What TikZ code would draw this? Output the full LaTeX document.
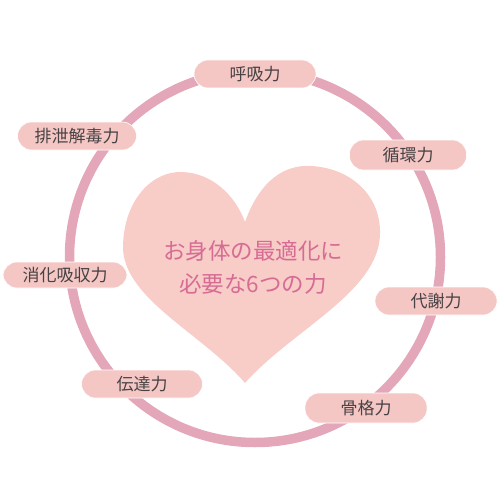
\documentclass[tikz,border=0pt]{standalone}
\usepackage{fontspec}
\newfontfamily\jp{Noto Sans CJK JP}
\definecolor{ringpink}{RGB}{228,166,185}
\definecolor{pillpink}{RGB}{244,199,196}
\definecolor{heartpink}{RGB}{248,204,199}
\definecolor{heartword}{RGB}{214,108,148}
\definecolor{pillword}{RGB}{72,66,68}
\begin{document}
\begin{tikzpicture}[x=1pt,y=-1pt,
    pill/.style={fill=pillpink,draw=white,line width=0.6pt,rounded corners=14pt,
      minimum width=122pt,minimum height=28pt,inner sep=0pt,
      font=\jp\fontsize{17}{17}\selectfont,text=pillword}]
    \useasboundingbox (0,0) rectangle (500,500);
    \draw[ringpink,line width=9.5pt](255,257) circle (185.5);
    \fill[heartpink](245,222) .. controls (260,180) and (285,164) .. (312,166)
      .. controls (354,169) and (381,198) .. (380,234)
      .. controls (379,292) and (292,330) .. (245,383)
      .. controls (203,334) and (122,298) .. (123,246)
      .. controls (124,200) and (152,171) .. (182,172)
      .. controls (212,173) and (235,195) .. (245,222) -- cycle;
    \node[text=heartword,font=\jp\fontsize{22.5}{33}\selectfont,align=center](title) at (253,267){お身体の最適化に\\必要な6つの力};
    \node[pill](kokyu) at (255,74){呼吸力};
    \node[pill,minimum width=119pt](haisetsu) at (77,136){排泄解毒力};
    \node[pill,minimum width=124pt,minimum height=26pt](shoka) at (65,275){消化吸収力};
    \node[pill,minimum width=117pt,minimum height=30pt](junkan) at (408,155){循環力};
    \node[pill](taisha) at (436,301){代謝力};
    \node[pill,minimum width=121pt](dentatsu) at (142,384){伝達力};
    \node[pill,minimum height=30pt](kokkaku) at (366,408){骨格力};
\end{tikzpicture}
\end{document}
